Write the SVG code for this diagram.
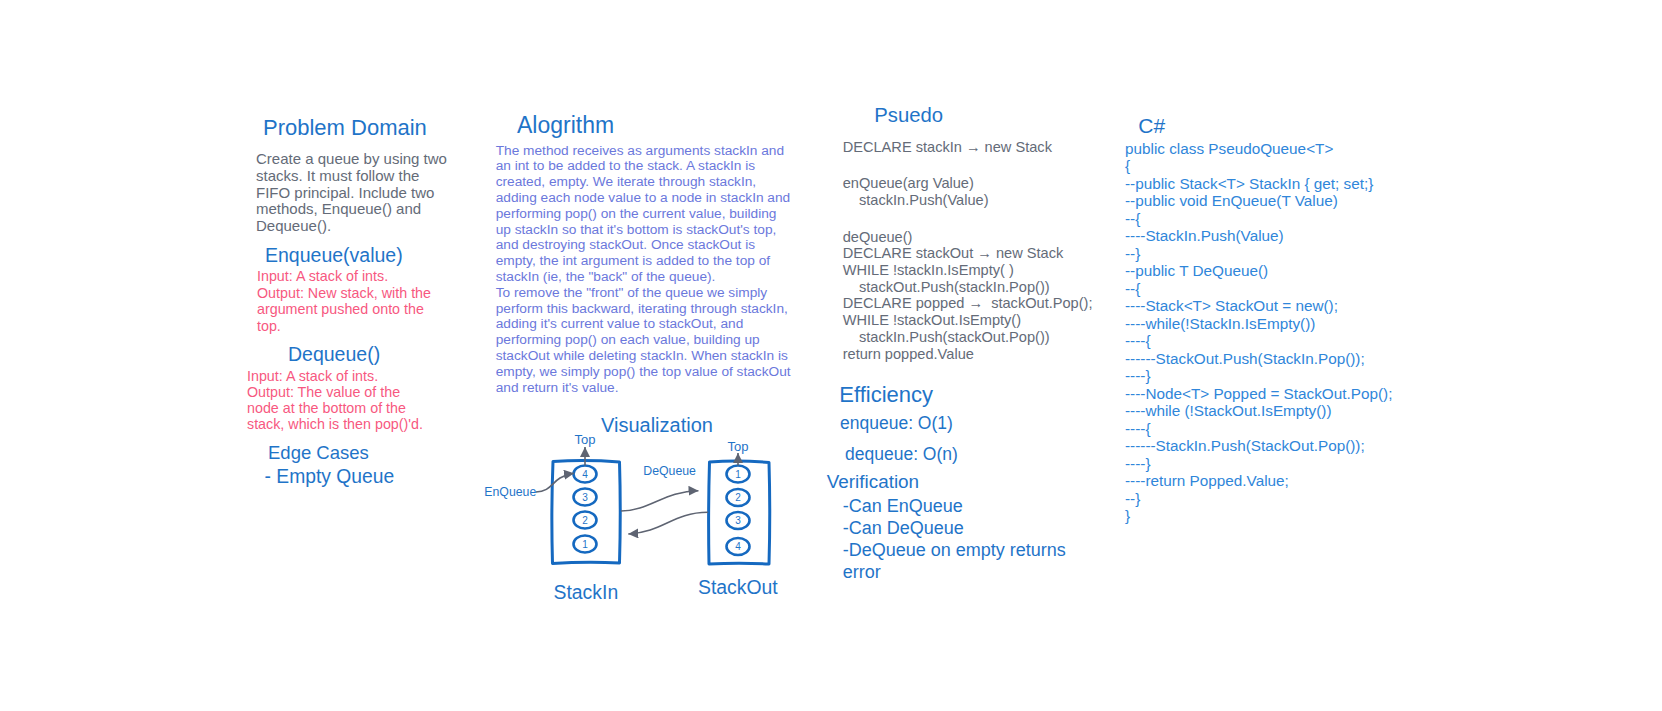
<svg xmlns="http://www.w3.org/2000/svg" width="1662" height="711" viewBox="0 0 1662 711">
<defs>
<style>
text{font-family:"Liberation Sans",Arial,"DejaVu Sans",sans-serif}
.h{fill:#1f74c8;font-size:22px}
.h2{fill:#1f74c8;font-size:19.5px}
.body{fill:#646b78;font-size:15px}
.pink{fill:#f7587f;font-size:14.3px}
.algo{fill:#6b78dc;font-size:13.7px}
.pseudo{fill:#646b78;font-size:14.6px}
.eff{fill:#1f74c8;font-size:17.5px}
.ver{fill:#1f74c8;font-size:18px}
.code{fill:#2f86da;font-size:15.3px}
.lbl{fill:#1f74c8;font-size:12.3px}
.num{fill:#1f74c8;font-size:10px;text-anchor:middle}
.box{fill:none;stroke:#1569c0;stroke-width:3;stroke-linejoin:round}
.cell{fill:#fff;stroke:#1569c0;stroke-width:2.6}
.conn{fill:none;stroke:#5e6472;stroke-width:1.6}
</style>
<marker id="ah" viewBox="0 0 10 10" refX="10" refY="5" markerWidth="10" markerHeight="10" markerUnits="userSpaceOnUse" orient="auto">
<path d="M0,0 L10,5 L0,10 z" fill="#5e6472"/>
</marker>
</defs>
<rect width="1662" height="711" fill="#ffffff"/>

<g id="problem-domain">
<text class="h" x="263" y="135">Problem Domain</text>
<text class="body" x="256" y="164.3">Create a queue by using two</text>
<text class="body" x="256" y="181">stacks. It must follow the</text>
<text class="body" x="256" y="197.7">FIFO principal. Include two</text>
<text class="body" x="256" y="214.3">methods, Enqueue() and</text>
<text class="body" x="256" y="231">Dequeue().</text>
</g>

<g id="enqueue">
<text class="h2" x="265" y="262">Enqueue(value)</text>
<text class="pink" x="257" y="281">Input: A stack of ints.</text>
<text class="pink" x="257" y="297.5">Output: New stack, with the</text>
<text class="pink" x="257" y="314">argument pushed onto the</text>
<text class="pink" x="257" y="330.5">top.</text>
</g>

<g id="dequeue">
<text class="h2" x="288" y="361">Dequeue()</text>
<text class="pink" x="247" y="381">Input: A stack of ints.</text>
<text class="pink" x="247" y="397">Output: The value of the</text>
<text class="pink" x="247" y="413">node at the bottom of the</text>
<text class="pink" x="247" y="429">stack, which is then pop()'d.</text>
</g>

<g id="edge-cases">
<text class="h2" x="268" y="458.5" style="font-size:18.5px">Edge Cases</text>
<text class="h2" x="264.5" y="483" style="font-size:19.3px">- Empty Queue</text>
</g>

<g id="algorithm">
<text class="h" x="517" y="133.3" style="font-size:23px">Alogrithm</text>
<text class="algo" x="495.7" y="154.5">The method receives as arguments stackIn and</text>
<text class="algo" x="495.7" y="170.3">an int to be added to the stack. A stackIn is</text>
<text class="algo" x="495.7" y="186.1">created, empty. We iterate through stackIn,</text>
<text class="algo" x="495.7" y="201.9">adding each node value to a node in stackIn and</text>
<text class="algo" x="495.7" y="217.7">performing pop() on the current value, building</text>
<text class="algo" x="495.7" y="233.5">up stackIn so that it's bottom is stackOut's top,</text>
<text class="algo" x="495.7" y="249.3">and destroying stackOut. Once stackOut is</text>
<text class="algo" x="495.7" y="265.1">empty, the int argument is added to the top of</text>
<text class="algo" x="495.7" y="280.9">stackIn (ie, the "back" of the queue).</text>
<text class="algo" x="495.7" y="296.7">To remove the "front" of the queue we simply</text>
<text class="algo" x="495.7" y="312.5">perform this backward, iterating through stackIn,</text>
<text class="algo" x="495.7" y="328.3">adding it's current value to stackOut, and</text>
<text class="algo" x="495.7" y="344.1">performing pop() on each value, building up</text>
<text class="algo" x="495.7" y="359.9">stackOut while deleting stackIn. When stackIn is</text>
<text class="algo" x="495.7" y="375.7">empty, we simply pop() the top value of stackOut</text>
<text class="algo" x="495.7" y="391.5">and return it's value.</text>
</g>

<g id="visualization-title">
<text class="h" x="601" y="431.7" style="font-size:20px">Visualization</text>
</g>

<g id="stack-in">
<path class="box" d="M553,461.5 Q586,459.5 619.5,462 Q621,512 619.5,563 Q586,561.5 552.5,563.5 Q551,512 553,461.5 Z"/>
<ellipse class="cell" cx="585" cy="474" rx="11.5" ry="8.5"/>
<text class="num" x="585" y="477.5">4</text>
<ellipse class="cell" cx="585" cy="497" rx="11.5" ry="8.5"/>
<text class="num" x="585" y="500.5">3</text>
<ellipse class="cell" cx="585" cy="520" rx="11.5" ry="8.5"/>
<text class="num" x="585" y="523.5">2</text>
<ellipse class="cell" cx="585" cy="544" rx="11.5" ry="8.5"/>
<text class="num" x="585" y="547.5">1</text>
<text class="lbl" x="585" y="444.3" text-anchor="middle" style="font-size:13px">Top</text>
<text class="h2" x="553.5" y="598.5" style="font-size:19.4px">StackIn</text>
</g>

<g id="stack-out">
<path class="box" d="M709.5,462 Q739,460 769,462.5 Q770.5,513 769,564 Q739,562.5 709,564 Q708,513 709.5,462 Z"/>
<ellipse class="cell" cx="738" cy="474" rx="11.5" ry="8.5"/>
<text class="num" x="738" y="477.5">1</text>
<ellipse class="cell" cx="738" cy="497.5" rx="11.5" ry="8.5"/>
<text class="num" x="738" y="501">2</text>
<ellipse class="cell" cx="738" cy="520.5" rx="11.5" ry="8.5"/>
<text class="num" x="738" y="524">3</text>
<ellipse class="cell" cx="738" cy="546.5" rx="11.5" ry="8.5"/>
<text class="num" x="738" y="550">4</text>
<text class="lbl" x="738" y="451" text-anchor="middle" style="font-size:13px">Top</text>
<text class="h2" x="698" y="593.5" style="font-size:19.4px">StackOut</text>
</g>

<g id="connectors">
<path class="conn" d="M585,465.5 L585,447" marker-end="url(#ah)"/>
<path class="conn" d="M738,465.5 L738,453" marker-end="url(#ah)"/>
<path class="conn" d="M536,492 C549,492 552,483 560,478 C565,475 569,474 574,473.3" marker-end="url(#ah)"/>
<path class="conn" d="M621,511 C650,511 664,491 698.5,490.7" marker-end="url(#ah)"/>
<path class="conn" d="M708,512.3 C672,512.5 664,532 628.3,534" marker-end="url(#ah)"/>
<text class="lbl" x="484.3" y="496">EnQueue</text>
<text class="lbl" x="643.3" y="475">DeQueue</text>
</g>

<g id="pseudo">
<text class="h" x="874.3" y="122.3" style="font-size:20.3px">Psuedo</text>
<text class="pseudo" x="842.7" y="152.3">DECLARE stackIn → new Stack</text>
<text class="pseudo" x="842.7" y="188.3">enQueue(arg Value)</text>
<text class="pseudo" x="859" y="205">stackIn.Push(Value)</text>
<text class="pseudo" x="842.7" y="241.7">deQueue()</text>
<text class="pseudo" x="842.7" y="258.3">DECLARE stackOut → new Stack</text>
<text class="pseudo" x="842.7" y="275">WHILE !stackIn.IsEmpty( )</text>
<text class="pseudo" x="859" y="291.7">stackOut.Push(stackIn.Pop())</text>
<text class="pseudo" x="842.7" y="308.3" xml:space="preserve">DECLARE popped →  stackOut.Pop();</text>
<text class="pseudo" x="842.7" y="325">WHILE !stackOut.IsEmpty()</text>
<text class="pseudo" x="859" y="341.7">stackIn.Push(stackOut.Pop())</text>
<text class="pseudo" x="842.7" y="358.6">return popped.Value</text>
</g>

<g id="efficiency">
<text class="h" x="839.3" y="401.7">Efficiency</text>
<text class="eff" x="840" y="429">enqueue: O(1)</text>
<text class="eff" x="845" y="460">dequeue: O(n)</text>
</g>

<g id="verification">
<text class="h2" x="826.7" y="488.3" style="font-size:18.9px">Verification</text>
<text class="ver" x="842.7" y="512.3">-Can EnQueue</text>
<text class="ver" x="842.7" y="534.3">-Can DeQueue</text>
<text class="ver" x="842.7" y="556">-DeQueue on empty returns</text>
<text class="ver" x="842.7" y="578">error</text>
</g>

<g id="csharp">
<text class="h" x="1138.3" y="133.3" style="font-size:21px">C#</text>
<text class="code" x="1125" y="153.5">public class PseudoQueue&lt;T&gt;</text>
<text class="code" x="1125" y="171">{</text>
<text class="code" x="1125" y="188.5">--public Stack&lt;T&gt; StackIn { get; set;}</text>
<text class="code" x="1125" y="206">--public void EnQueue(T Value)</text>
<text class="code" x="1125" y="223.5">--{</text>
<text class="code" x="1125" y="241">----StackIn.Push(Value)</text>
<text class="code" x="1125" y="258.5">--}</text>
<text class="code" x="1125" y="276">--public T DeQueue()</text>
<text class="code" x="1125" y="293.5">--{</text>
<text class="code" x="1125" y="311">----Stack&lt;T&gt; StackOut = new();</text>
<text class="code" x="1125" y="328.5">----while(!StackIn.IsEmpty())</text>
<text class="code" x="1125" y="346">----{</text>
<text class="code" x="1125" y="363.5">------StackOut.Push(StackIn.Pop());</text>
<text class="code" x="1125" y="381">----}</text>
<text class="code" x="1125" y="398.5">----Node&lt;T&gt; Popped = StackOut.Pop();</text>
<text class="code" x="1125" y="416">----while (!StackOut.IsEmpty())</text>
<text class="code" x="1125" y="433.5">----{</text>
<text class="code" x="1125" y="451">------StackIn.Push(StackOut.Pop());</text>
<text class="code" x="1125" y="468.5">----}</text>
<text class="code" x="1125" y="486">----return Popped.Value;</text>
<text class="code" x="1125" y="503.5">--}</text>
<text class="code" x="1125" y="521">}</text>
</g>
</svg>
